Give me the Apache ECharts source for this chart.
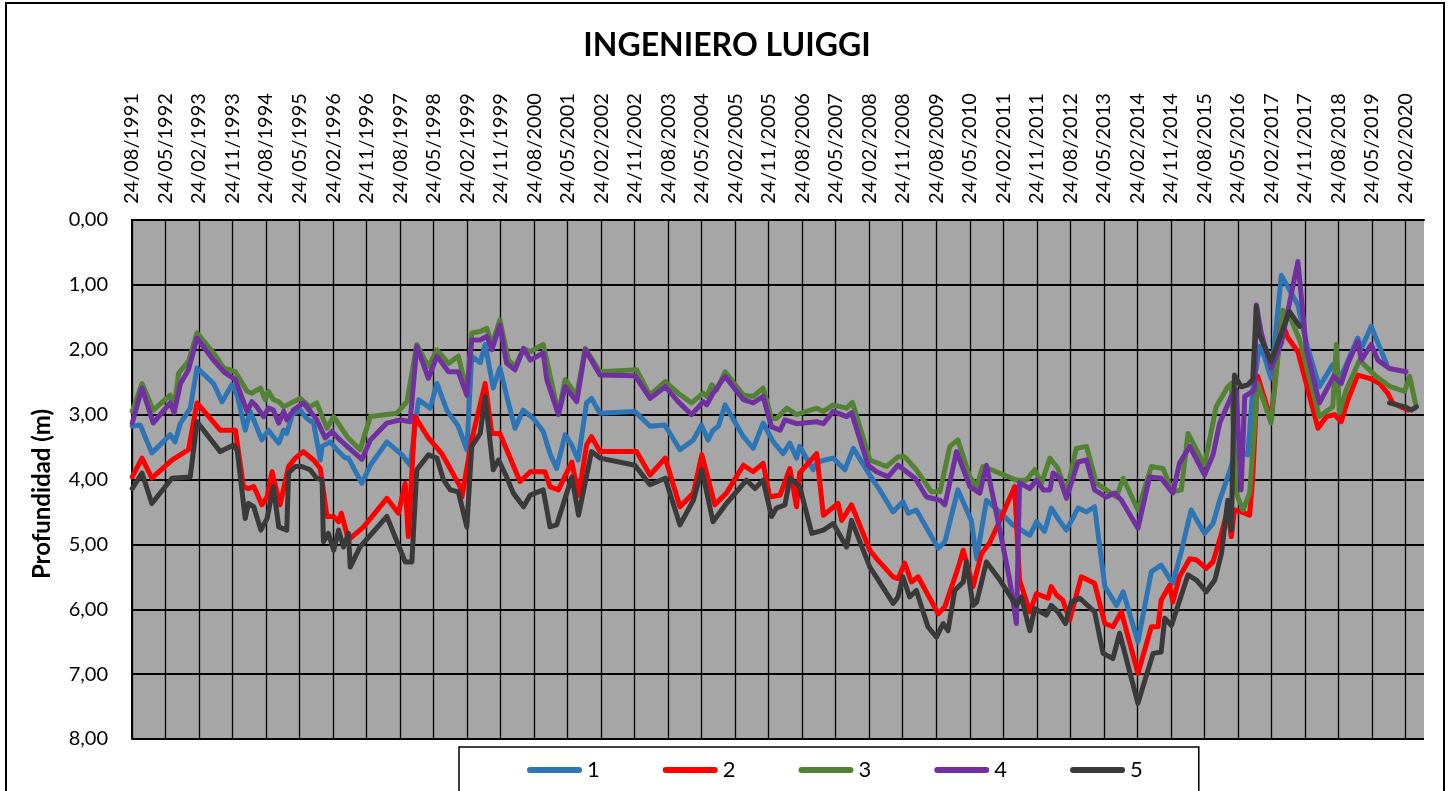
<!DOCTYPE html>
<html>
<head>
<meta charset="utf-8">
<script src="https://cdn.jsdelivr.net/npm/echarts@6/dist/echarts.min.js"></script>
<style>
html,body{margin:0;padding:0;background:#ffffff;}
#chart{width:1454px;height:791px;}
</style>
</head>
<body>
<div id="chart"></div>
<script>
// ---------- data ----------
const chartTitle = 'INGENIERO LUIGGI';
const yAxisName = 'Profundidad (m)';
const seriesNames = ['1', '2', '3', '4', '5'];
const seriesColors = ['#2E75B6', '#FF0000', '#548235', '#7030A0', '#3A3A3A'];

// tick labels of the date axis (every 9 months from 24/08/1991)
const dateTickLabels = ['24/08/1991','24/05/1992','24/02/1993','24/11/1993','24/08/1994','24/05/1995','24/02/1996','24/11/1996','24/08/1997','24/05/1998','24/02/1999','24/11/1999','24/08/2000','24/05/2001','24/02/2002','24/11/2002','24/08/2003','24/05/2004','24/02/2005','24/11/2005','24/08/2006','24/05/2007','24/02/2008','24/11/2008','24/08/2009','24/05/2010','24/02/2011','24/11/2011','24/08/2012','24/05/2013','24/02/2014','24/11/2014','24/08/2015','24/05/2016','24/02/2017','24/11/2017','24/08/2018','24/05/2019','24/02/2020'];

// depth readings: [date as decimal year, depth in m]
const serie1 = [[1991.65,3.18],[1991.83,3.16],[1992.09,3.59],[1992.24,3.49],[1992.50,3.31],[1992.61,3.42],[1992.73,3.13],[1992.95,2.90],[1993.10,2.28],[1993.47,2.52],[1993.66,2.80],[1993.88,2.54],[1994.00,2.70],[1994.18,3.24],[1994.29,2.95],[1994.40,3.13],[1994.55,3.39],[1994.70,3.24],[1994.81,3.34],[1994.93,3.44],[1995.04,3.24],[1995.11,3.29],[1995.23,3.00],[1995.41,2.93],[1995.56,3.06],[1995.71,3.13],[1995.86,3.70],[1995.90,3.49],[1996.08,3.42],[1996.23,3.54],[1996.42,3.67],[1996.49,3.67],[1996.79,4.06],[1996.98,3.78],[1997.35,3.42],[1997.69,3.62],[1997.87,3.78],[1998.06,2.77],[1998.32,2.90],[1998.47,2.52],[1998.69,2.93],[1998.95,3.18],[1999.14,3.54],[1999.25,2.10],[1999.44,2.20],[1999.55,1.92],[1999.73,2.59],[1999.88,2.28],[2000.07,2.82],[2000.22,3.21],[2000.40,2.93],[2000.63,3.06],[2000.85,3.26],[2001.00,3.60],[2001.15,3.83],[2001.34,3.31],[2001.49,3.47],[2001.63,3.70],[2001.82,2.82],[2001.93,2.75],[2002.12,2.98],[2002.90,2.95],[2003.24,3.18],[2003.57,3.16],[2003.91,3.54],[2004.21,3.39],[2004.39,3.16],[2004.54,3.39],[2004.65,3.24],[2004.77,3.18],[2004.92,2.85],[2005.33,3.34],[2005.55,3.52],[2005.77,3.13],[2006.00,3.42],[2006.22,3.60],[2006.37,3.44],[2006.52,3.67],[2006.59,3.49],[2006.89,3.85],[2006.97,3.73],[2007.34,3.67],[2007.60,3.85],[2007.79,3.52],[2008.23,4.01],[2008.38,4.16],[2008.68,4.50],[2008.90,4.34],[2009.02,4.52],[2009.20,4.47],[2009.69,5.06],[2009.84,4.96],[2010.13,4.16],[2010.43,4.63],[2010.55,5.22],[2010.77,4.32],[2011.10,4.52],[2011.36,4.70],[2011.74,4.86],[2011.89,4.65],[2012.07,4.80],[2012.22,4.44],[2012.37,4.60],[2012.56,4.78],[2012.82,4.44],[2013.01,4.50],[2013.19,4.42],[2013.42,5.65],[2013.68,5.94],[2013.83,5.73],[2014.16,6.50],[2014.46,5.42],[2014.68,5.32],[2014.94,5.60],[2015.13,5.11],[2015.35,4.47],[2015.65,4.83],[2015.84,4.68],[2015.99,4.32],[2016.17,3.96],[2016.36,3.55],[2016.62,3.62],[2016.73,2.62],[2016.88,1.95],[2016.99,2.10],[2017.14,2.44],[2017.37,0.85],[2017.74,1.31],[2017.93,1.90],[2018.22,2.57],[2018.52,2.23],[2018.71,2.41],[2019.08,1.82],[2019.16,1.98],[2019.38,1.64],[2019.72,2.21]];

const serie2 = [[1991.65,3.96],[1991.87,3.67],[1992.09,3.98],[1992.54,3.70],[1992.91,3.54],[1993.10,2.82],[1993.62,3.24],[1993.96,3.24],[1994.14,4.11],[1994.25,4.14],[1994.37,4.11],[1994.44,4.21],[1994.55,4.39],[1994.67,4.27],[1994.78,3.88],[1994.96,4.39],[1995.00,4.42],[1995.15,3.80],[1995.30,3.67],[1995.48,3.57],[1995.71,3.70],[1995.86,3.83],[1996.01,4.57],[1996.16,4.57],[1996.27,4.65],[1996.33,4.52],[1996.49,4.93],[1996.83,4.73],[1997.35,4.29],[1997.61,4.52],[1997.76,4.06],[1997.83,4.88],[1997.98,3.03],[1998.28,3.36],[1998.58,3.60],[1998.99,4.11],[1999.03,4.27],[1999.25,3.39],[1999.55,2.52],[1999.70,3.29],[1999.88,3.29],[2000.33,4.03],[2000.56,3.88],[2000.89,3.88],[2001.00,4.11],[2001.19,4.16],[2001.49,3.73],[2001.64,4.25],[2001.82,3.47],[2001.93,3.34],[2002.12,3.57],[2002.94,3.57],[2003.24,3.93],[2003.58,3.67],[2003.91,4.42],[2004.21,4.21],[2004.40,3.62],[2004.69,4.39],[2004.95,4.21],[2005.33,3.78],[2005.55,3.88],[2005.77,3.75],[2005.92,4.27],[2006.15,4.24],[2006.37,3.83],[2006.52,4.42],[2006.59,3.90],[2006.97,3.60],[2007.12,4.55],[2007.45,4.37],[2007.53,4.63],[2007.75,4.39],[2008.16,5.09],[2008.31,5.22],[2008.68,5.50],[2008.79,5.53],[2008.94,5.29],[2009.09,5.58],[2009.24,5.50],[2009.69,6.07],[2009.84,5.96],[2010.13,5.37],[2010.25,5.09],[2010.47,5.65],[2010.66,5.14],[2010.84,4.98],[2011.11,4.57],[2011.40,4.11],[2011.51,5.55],[2011.74,6.04],[2011.89,5.76],[2012.15,5.83],[2012.22,5.65],[2012.34,5.78],[2012.48,5.86],[2012.63,6.17],[2012.89,5.50],[2013.19,5.60],[2013.42,6.22],[2013.60,6.27],[2013.79,6.04],[2014.16,6.99],[2014.46,6.27],[2014.61,6.27],[2014.68,5.86],[2014.87,5.63],[2014.94,5.89],[2015.09,5.50],[2015.32,5.22],[2015.47,5.24],[2015.69,5.37],[2015.84,5.27],[2015.99,4.93],[2016.17,4.47],[2016.25,4.88],[2016.32,4.47],[2016.47,4.50],[2016.66,4.55],[2016.73,3.96],[2016.84,2.41],[2017.14,3.08],[2017.37,1.55],[2017.52,1.82],[2017.74,2.03],[2018.19,3.21],[2018.38,3.03],[2018.56,3.00],[2018.71,3.11],[2018.86,2.77],[2019.08,2.39],[2019.34,2.44],[2019.57,2.52],[2019.75,2.67],[2019.86,2.82],[2020.20,2.93]];

const serie3 = [[1991.65,2.95],[1991.87,2.52],[1992.12,2.93],[1992.50,2.70],[1992.59,2.88],[1992.69,2.36],[1992.91,2.18],[1993.10,1.74],[1993.47,2.05],[1993.70,2.28],[1993.96,2.34],[1994.22,2.64],[1994.33,2.67],[1994.52,2.59],[1994.63,2.77],[1994.70,2.64],[1994.81,2.77],[1994.93,2.80],[1995.04,2.88],[1995.26,2.80],[1995.41,2.75],[1995.63,2.88],[1995.78,2.82],[1996.01,3.21],[1996.16,3.03],[1996.46,3.34],[1996.75,3.54],[1996.98,3.03],[1997.57,2.98],[1997.80,2.80],[1998.02,1.92],[1998.28,2.26],[1998.47,2.00],[1998.73,2.21],[1998.95,2.10],[1999.14,2.64],[1999.25,1.74],[1999.44,1.72],[1999.59,1.67],[1999.70,1.92],[1999.88,1.54],[2000.07,2.16],[2000.22,2.26],[2000.41,1.98],[2000.56,2.03],[2000.85,1.92],[2001.19,2.98],[2001.34,2.46],[2001.60,2.70],[2001.79,1.98],[2002.12,2.34],[2002.94,2.31],[2003.24,2.70],[2003.58,2.49],[2003.87,2.67],[2004.17,2.82],[2004.43,2.67],[2004.51,2.72],[2004.62,2.54],[2004.73,2.62],[2004.92,2.34],[2005.33,2.70],[2005.55,2.72],[2005.77,2.59],[2005.96,3.06],[2006.07,3.06],[2006.30,2.90],[2006.52,3.00],[2006.97,2.90],[2007.12,2.95],[2007.34,2.85],[2007.64,2.90],[2007.77,2.81],[2008.16,3.70],[2008.53,3.80],[2008.79,3.65],[2008.94,3.65],[2009.20,3.85],[2009.54,4.19],[2009.73,4.19],[2009.95,3.49],[2010.13,3.39],[2010.40,3.96],[2010.55,4.11],[2010.69,3.80],[2010.81,3.83],[2011.44,4.01],[2011.66,4.01],[2011.85,3.85],[2012.00,4.06],[2012.19,3.67],[2012.37,3.83],[2012.56,4.21],[2012.78,3.52],[2013.01,3.49],[2013.23,4.06],[2013.45,4.16],[2013.68,4.27],[2013.83,3.98],[2014.16,4.47],[2014.46,3.80],[2014.72,3.83],[2014.94,4.19],[2015.13,4.16],[2015.28,3.29],[2015.65,3.78],[2015.91,2.88],[2016.17,2.57],[2016.25,2.52],[2016.36,4.21],[2016.51,4.47],[2016.66,4.21],[2016.84,2.52],[2017.14,3.13],[2017.40,1.39],[2017.59,1.54],[2017.78,1.85],[2018.22,3.03],[2018.52,2.88],[2018.60,1.92],[2018.67,2.98],[2018.82,2.62],[2019.12,2.16],[2019.49,2.41],[2019.81,2.57],[2020.13,2.64],[2020.24,2.41],[2020.39,2.88]];

const serie4 = [[1991.65,3.13],[1991.87,2.59],[1992.12,3.13],[1992.50,2.82],[1992.59,2.97],[1992.73,2.52],[1992.91,2.31],[1993.10,1.82],[1993.47,2.16],[1993.70,2.34],[1993.96,2.46],[1994.22,2.95],[1994.33,2.80],[1994.44,2.88],[1994.59,3.03],[1994.70,2.90],[1994.81,2.93],[1994.93,3.13],[1995.04,2.95],[1995.11,3.08],[1995.26,2.93],[1995.48,2.82],[1995.67,2.98],[1995.78,3.08],[1995.97,3.36],[1996.12,3.26],[1996.30,3.39],[1996.46,3.49],[1996.79,3.69],[1996.98,3.39],[1997.35,3.13],[1997.65,3.08],[1997.87,3.11],[1998.02,1.95],[1998.28,2.44],[1998.47,2.10],[1998.73,2.34],[1998.95,2.34],[1999.14,2.70],[1999.25,1.85],[1999.44,1.85],[1999.59,1.79],[1999.70,2.00],[1999.88,1.62],[2000.03,2.21],[2000.22,2.31],[2000.41,1.98],[2000.56,2.16],[2000.85,2.05],[2000.93,2.46],[2001.19,3.00],[2001.34,2.57],[2001.60,2.80],[2001.79,2.00],[2002.12,2.39],[2002.90,2.40],[2003.24,2.75],[2003.58,2.57],[2003.87,2.80],[2004.17,3.00],[2004.43,2.80],[2004.51,2.85],[2004.65,2.67],[2004.92,2.41],[2005.33,2.77],[2005.55,2.82],[2005.77,2.72],[2005.96,3.19],[2006.15,3.24],[2006.26,3.08],[2006.52,3.14],[2006.97,3.11],[2007.12,3.14],[2007.34,2.95],[2007.64,3.03],[2007.75,2.97],[2008.12,3.78],[2008.31,3.88],[2008.57,3.96],[2008.79,3.78],[2009.17,3.98],[2009.43,4.27],[2009.73,4.32],[2009.84,4.39],[2010.10,3.57],[2010.40,4.11],[2010.62,4.21],[2010.77,3.78],[2011.07,4.78],[2011.29,5.55],[2011.44,6.22],[2011.51,4.05],[2011.74,4.14],[2011.89,4.01],[2012.04,4.16],[2012.19,4.16],[2012.26,3.90],[2012.41,3.98],[2012.56,4.29],[2012.82,3.73],[2013.01,3.70],[2013.19,4.16],[2013.45,4.27],[2013.64,4.21],[2013.79,4.32],[2014.16,4.75],[2014.42,3.96],[2014.68,3.98],[2014.94,4.21],[2015.09,3.75],[2015.32,3.49],[2015.65,3.93],[2015.84,3.62],[2015.99,3.13],[2016.25,2.72],[2016.36,2.62],[2016.47,4.16],[2016.55,2.72],[2016.77,2.62],[2016.81,1.31],[2016.92,1.74],[2017.14,2.28],[2017.37,1.90],[2017.74,0.64],[2017.93,2.00],[2018.22,2.82],[2018.54,2.41],[2018.71,2.52],[2018.86,2.21],[2019.08,1.87],[2019.16,2.16],[2019.38,1.92],[2019.53,2.16],[2019.79,2.29],[2020.16,2.34]];

const serie5 = [[1991.65,4.14],[1991.87,3.90],[1992.09,4.37],[1992.54,3.98],[1992.95,3.96],[1993.10,3.11],[1993.62,3.57],[1993.92,3.47],[1994.00,3.55],[1994.18,4.60],[1994.25,4.37],[1994.37,4.42],[1994.53,4.78],[1994.67,4.60],[1994.81,4.11],[1994.93,4.73],[1995.11,4.78],[1995.15,3.90],[1995.30,3.80],[1995.45,3.80],[1995.63,3.85],[1995.78,3.98],[1995.90,4.01],[1995.93,4.96],[1996.04,4.83],[1996.16,5.09],[1996.27,4.78],[1996.38,5.04],[1996.49,4.83],[1996.53,5.35],[1996.75,5.04],[1997.35,4.57],[1997.76,5.27],[1997.91,5.27],[1998.02,3.85],[1998.28,3.62],[1998.47,3.67],[1998.62,4.01],[1998.77,4.16],[1998.95,4.19],[1999.14,4.73],[1999.25,3.49],[1999.44,3.29],[1999.55,2.72],[1999.73,3.85],[1999.85,3.70],[2000.03,3.96],[2000.18,4.21],[2000.41,4.42],[2000.56,4.24],[2000.85,4.16],[2001.00,4.73],[2001.15,4.70],[2001.49,3.96],[2001.64,4.55],[2001.93,3.57],[2002.12,3.67],[2002.90,3.78],[2003.24,4.08],[2003.58,3.98],[2003.91,4.70],[2004.21,4.32],[2004.40,3.85],[2004.65,4.65],[2004.95,4.37],[2005.40,4.01],[2005.59,4.14],[2005.77,4.01],[2005.96,4.57],[2006.07,4.44],[2006.26,4.39],[2006.37,3.98],[2006.59,4.11],[2006.86,4.83],[2007.12,4.78],[2007.34,4.68],[2007.64,5.04],[2007.75,4.63],[2008.16,5.35],[2008.35,5.55],[2008.68,5.91],[2008.79,5.81],[2008.90,5.50],[2009.05,5.81],[2009.20,5.71],[2009.46,6.27],[2009.65,6.43],[2009.80,6.22],[2009.91,6.33],[2010.06,5.71],[2010.25,5.58],[2010.32,5.27],[2010.47,5.94],[2010.55,5.89],[2010.77,5.27],[2011.07,5.55],[2011.36,5.86],[2011.44,5.94],[2011.55,5.81],[2011.74,6.33],[2011.85,5.99],[2012.11,6.09],[2012.22,5.94],[2012.37,6.04],[2012.54,6.22],[2012.67,5.89],[2012.86,5.83],[2013.19,6.04],[2013.38,6.68],[2013.60,6.76],[2013.75,6.37],[2014.16,7.45],[2014.50,6.68],[2014.68,6.66],[2014.76,6.14],[2014.91,6.25],[2015.28,5.47],[2015.47,5.55],[2015.69,5.73],[2015.88,5.55],[2016.03,5.14],[2016.17,4.32],[2016.25,4.78],[2016.32,2.39],[2016.47,2.57],[2016.62,2.54],[2016.73,2.46],[2016.81,1.33],[2016.88,1.77],[2017.14,2.18],[2017.55,1.41],[2017.78,1.64],[2018.50,null],[2019.79,2.82],[2020.13,2.88],[2020.28,2.93],[2020.39,2.88]];

// ---------- helpers ----------
const T0 = 1991 + 7.75 / 12;          // 24/08/1991 as decimal year
const toMonths = t => (t - T0) * 12;  // x position in months since 24/08/1991
const allSeries = [serie1, serie2, serie3, serie4, serie5];
const FONT = 'Lato, "Open Sans", sans-serif';

const chart = echarts.init(document.getElementById('chart'), null, {renderer: 'canvas'});

const series = allSeries.map((arr, i) => ({
  name: seriesNames[i],
  type: 'line',
  showSymbol: false,
  symbol: 'none',
  connectNulls: false,
  animation: false,
  color: seriesColors[i],
  itemStyle: {color: seriesColors[i]},
  lineStyle: {color: seriesColors[i], width: 5, cap: 'round', join: 'round'},
  data: arr.map(p => [toMonths(p[0]), p[1]])
}));

const option = {
  animation: false,
  backgroundColor: '#ffffff',
  title: {
    text: chartTitle,
    left: 'center',
    top: 25,
    textStyle: {fontFamily: FONT, fontWeight: 'bold', fontSize: 32, color: '#000'}
  },
  legend: {
    data: seriesNames,
    left: 459,
    top: 747,
    orient: 'horizontal',
    padding: [12, 56, 40, 68],
    itemGap: 63,
    itemWidth: 55,
    itemHeight: 6,
    icon: 'path://M3 0 L52 0 A3 3 0 0 1 52 6 L3 6 A3 3 0 0 1 3 0 Z',
    borderColor: '#000',
    borderWidth: 1.5,
    textStyle: {fontFamily: FONT, fontSize: 22, color: '#000'}
  },
  grid: {
    left: 132, right: 30, top: 220, bottom: 52,
    show: true,
    backgroundColor: '#A6A6A6',
    borderWidth: 0
  },
  xAxis: {
    type: 'value',
    position: 'top',
    min: 0,
    max: 347,
    interval: 9,
    axisLine: {show: true, lineStyle: {color: '#000', width: 2}},
    axisTick: {show: false},
    axisLabel: {
      rotate: 90,
      margin: 16,
      fontFamily: FONT,
      fontSize: 20,
      color: '#000',
      showMaxLabel: false,
      formatter: v => {
        const i = Math.round(v / 9);
        return (Math.abs(v - i * 9) < 1e-6 && i < dateTickLabels.length) ? dateTickLabels[i] : '';
      }
    },
    splitLine: {show: true, showMaxLine: false, lineStyle: {color: '#000', width: 1.3}}
  },
  yAxis: {
    type: 'value',
    inverse: true,
    min: 0,
    max: 8,
    interval: 1,
    axisLine: {show: true, lineStyle: {color: '#000', width: 2}},
    axisTick: {show: false},
    axisLabel: {
      margin: 24,
      fontFamily: FONT,
      fontSize: 20,
      color: '#000',
      formatter: v => v.toFixed(2).replace('.', ',')
    },
    splitLine: {show: true, lineStyle: {color: '#000', width: 2}}
  },
  graphic: [{
    type: 'text',
    x: 42,
    y: 494,
    rotation: Math.PI / 2,
    silent: true,
    style: {
      text: yAxisName,
      fontFamily: FONT,
      fontWeight: 'bold',
      fontSize: 24,
      fill: '#000',
      align: 'center',
      verticalAlign: 'middle'
    }
  }, {
    type: 'rect',
    shape: {x: 6, y: 3, width: 1438, height: 800},
    style: {fill: 'none', stroke: '#000', lineWidth: 2},
    silent: true,
    z: 100
  }],
  series: series
};

chart.setOption(option);
</script>
</body>
</html>
